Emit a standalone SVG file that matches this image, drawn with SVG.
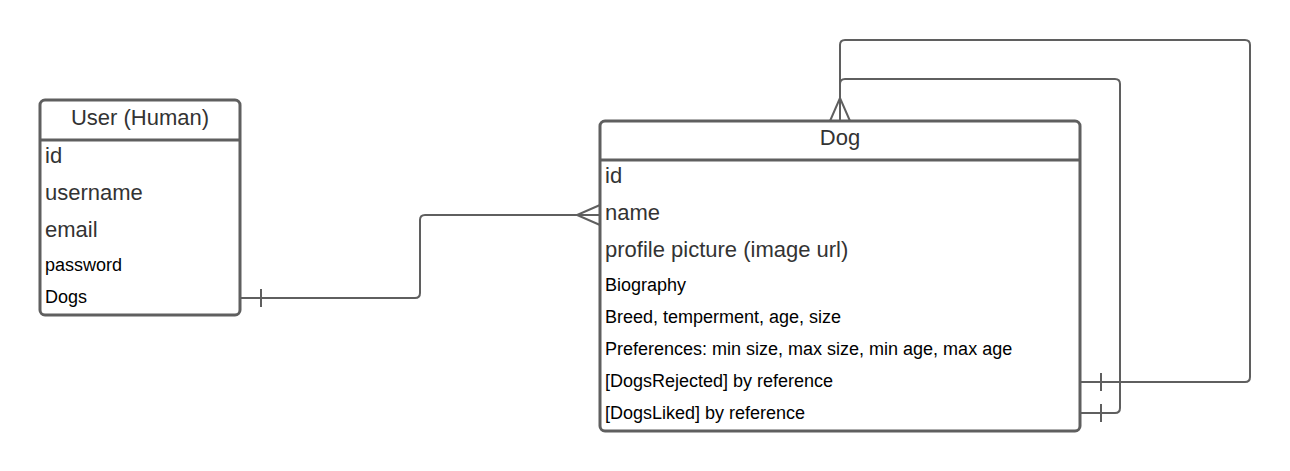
<svg xmlns="http://www.w3.org/2000/svg" width="1290" height="471" viewBox="0 0 1290 471">
<style>
.box{fill:#fff;stroke:#5f5f5f;stroke-width:3}
.sep{stroke:#5f5f5f;stroke-width:3}
.con{fill:none;stroke:#5f5f5f;stroke-width:2}
.t{font-family:"Liberation Sans",Arial,sans-serif}
.big{font-size:22px;fill:#333}
.sm{font-size:18px;fill:#000}
</style>
<rect width="1290" height="471" fill="#fff"/>
<g id="connectors">
<path class="con" d="M240,298 H415 Q420,298 420,293 V220 Q420,215 425,215 H600"/>
<path class="con" d="M261,289 V307"/>
<path class="con" d="M600,205 L577,215 L600,225"/>
<path class="con" d="M1080,382 H1245 Q1250,382 1250,377 V45 Q1250,40 1245,40 H845 Q840,40 840,45 V121"/>
<path class="con" d="M1080,413 H1115 Q1120,413 1120,408 V84 Q1120,79 1115,79 H845 Q840,79 840,84 V121"/>
<path class="con" d="M1101,373 V391 M1101,404 V422"/>
<path class="con" d="M830,121 L840,98 L850,121"/>
</g>
<g id="user">
<rect class="box" x="40" y="100" width="200" height="215" rx="5"/>
<line class="sep" x1="40" y1="140" x2="240" y2="140"/>
<text class="t big" x="140" y="125" text-anchor="middle">User (Human)</text>
<text class="t big" x="45" y="163">id</text>
<text class="t big" x="45" y="200">username</text>
<text class="t big" x="45" y="237">email</text>
<text class="t sm" x="45" y="271">password</text>
<text class="t sm" x="45" y="303">Dogs</text>
</g>
<g id="dog">
<rect class="box" x="600" y="121" width="480" height="310" rx="5"/>
<line class="sep" x1="600" y1="160" x2="1080" y2="160"/>
<text class="t big" x="840" y="145" text-anchor="middle">Dog</text>
<text class="t big" x="605" y="183">id</text>
<text class="t big" x="605" y="220">name</text>
<text class="t big" x="605" y="257">profile picture (image url)</text>
<text class="t sm" x="605" y="291">Biography</text>
<text class="t sm" x="605" y="323">Breed, temperment, age, size</text>
<text class="t sm" x="605" y="355">Preferences: min size, max size, min age, max age</text>
<text class="t sm" x="605" y="387">[DogsRejected] by reference</text>
<text class="t sm" x="605" y="419">[DogsLiked] by reference</text>
</g>
</svg>
